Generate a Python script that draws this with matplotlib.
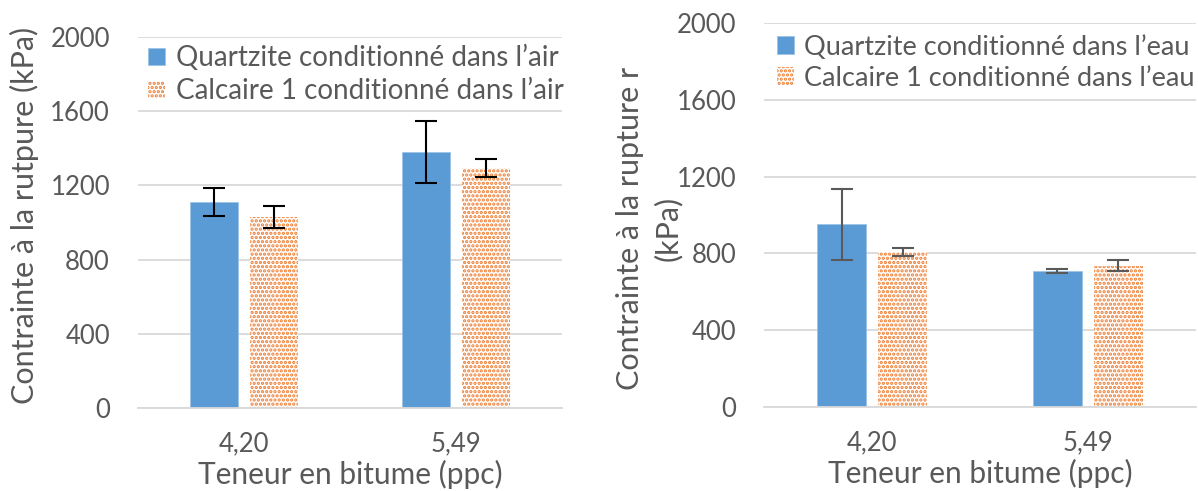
import matplotlib
matplotlib.use("Agg")
import matplotlib.pyplot as plt
import numpy as np

plt.rcParams['font.family'] = ['Lato', 'DejaVu Sans']
plt.rcParams['hatch.linewidth'] = 1.6

categories = ["4,20", "5,49"]

# panneau gauche : conditionné dans l'air
air_quartzite = [1110, 1380]
air_quartzite_err = [78, 167]
air_calcaire = [1030, 1294]
air_calcaire_err = [60, 48]

# panneau droit : conditionné dans l'eau
eau_quartzite = [953, 708]
eau_quartzite_err = [185, 12]
eau_calcaire = [807, 737]
eau_calcaire_err = [21, 29]

labels_air = ["Quartzite conditionné dans l’air", "Calcaire 1 conditionné dans l’air"]
labels_eau = ["Quartzite conditionné dans l’eau", "Calcaire 1 conditionné dans l’eau"]

blue = '#5B9BD5'
orange = '#ED7D31'
txt = '#595959'
grid = '#D9D9D9'

fig = plt.figure(figsize=(11.98, 4.91), dpi=100)
ax1 = fig.add_axes([0.115, 0.169, 0.354, 0.756])
ax2 = fig.add_axes([0.638, 0.171, 0.360, 0.782])


def draw(ax, q, qe, c, ce, labels, ecol, ylabel, legend_pos, lspace, lsize):
    x = np.arange(len(categories))
    w = 0.226
    off = 0.142
    ax.bar(x - off, q, w, color=blue, edgecolor='#9DC3E6', linewidth=0.6,
           label=labels[0], zorder=2)
    ax.bar(x + off, c, w, color='white', edgecolor=orange, hatch='....',
           linewidth=0, label=labels[1], zorder=2)
    ax.errorbar(x - off, q, yerr=qe, fmt='none', ecolor=ecol, elinewidth=1.5,
                capsize=8, capthick=1.5, zorder=3)
    ax.errorbar(x + off, c, yerr=ce, fmt='none', ecolor=ecol, elinewidth=1.5,
                capsize=8, capthick=1.5, zorder=3)
    ax.set_xlim(-0.5, 1.5)
    ax.set_ylim(0, 2000)
    ax.set_yticks(np.arange(0, 2001, 400))
    ax.set_xticks(x)
    ax.set_xticklabels(categories)
    ax.yaxis.grid(True, color=grid, linewidth=1.3, zorder=0)
    ax.set_axisbelow(True)
    for s in ['top', 'right', 'left']:
        ax.spines[s].set_visible(False)
    ax.spines['bottom'].set_color(grid)
    ax.spines['bottom'].set_linewidth(1.3)
    ax.tick_params(length=0, labelsize=18.5, colors=txt)
    ax.tick_params(axis='y', pad=20)
    ax.tick_params(axis='x', pad=17)
    ax.set_xlabel("Teneur en bitume (ppc)", fontsize=21.5, color=txt, labelpad=2)
    ax.set_ylabel(ylabel, fontsize=22, color=txt, linespacing=1.4)
    ax.legend(loc='upper left', bbox_to_anchor=legend_pos, frameon=False,
              fontsize=lsize, labelcolor=txt, handlelength=0.6, handleheight=0.6,
              handletextpad=0.4, labelspacing=lspace, borderaxespad=0,
              borderpad=0)


draw(ax1, air_quartzite, air_quartzite_err, air_calcaire, air_calcaire_err,
     labels_air, 'black', "Contrainte à la rutpure (kPa)", (0.024, 0.978), 0.25, 20)
draw(ax2, eau_quartzite, eau_quartzite_err, eau_calcaire, eau_calcaire_err,
     labels_eau, txt, "Contrainte à la rupture r\n(kPa)", (0.03, 0.97), 0.22, 19.5)

ax1.yaxis.set_label_coords(-0.232, 0.52)
ax2.yaxis.set_label_coords(-0.19, 0.466)

fig.savefig("out.png", dpi=100)
